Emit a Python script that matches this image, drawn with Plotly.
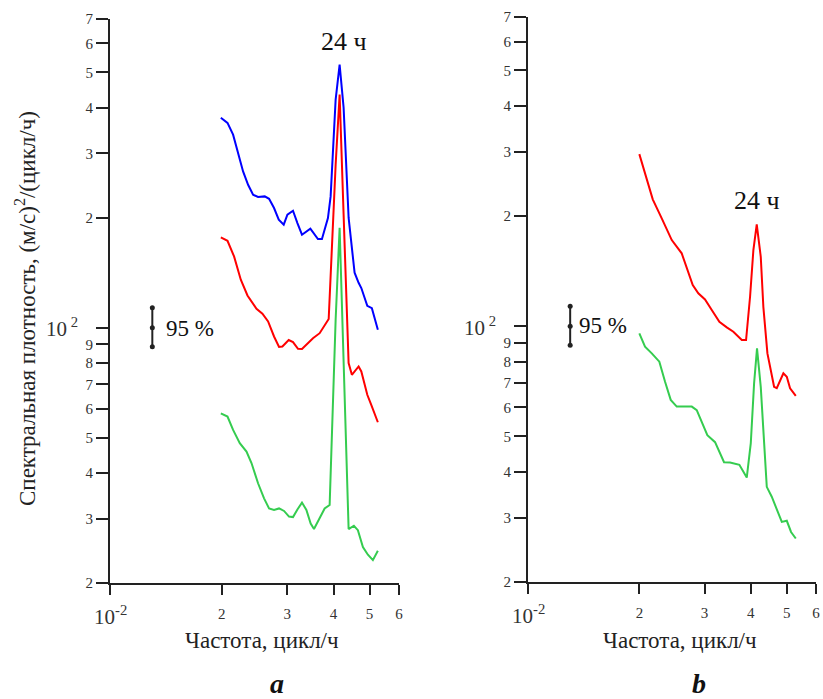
import math
import plotly.graph_objects as go

# ---------------- data (frequency in units of 10^-2 cycles/h, PSD in (m/s)^2/(cycle/h)) -------------
FREQ_A_BLUE = [1.988, 2.072, 2.145, 2.213, 2.282, 2.354, 2.428, 2.504, 2.610, 2.681, 2.765, 2.847,
               2.936, 3.004, 3.110, 3.196, 3.288, 3.463, 3.630, 3.721, 3.862, 3.927, 4.051, 4.152,
               4.256, 4.390, 4.556, 4.671, 4.750, 4.929, 5.071, 5.263]
PSD_A_BLUE = [375.8, 363.6, 337.6, 300.8, 267.8, 246.2, 231.2, 228.0, 228.8, 225.4, 212.6, 197.5,
              191.4, 203.8, 209.0, 193.4, 179.7, 186.6, 174.8, 174.8, 199.6, 228.8, 421.0, 525.2,
              400.2, 200.0, 141.4, 132.7, 128.4, 114.8, 113.1, 98.7]

FREQ_A_RED = [1.988, 2.072, 2.158, 2.250, 2.345, 2.480, 2.573, 2.665, 2.765, 2.852, 2.912, 3.028,
              3.110, 3.208, 3.288, 3.400, 3.520, 3.669, 3.801, 3.880, 4.051, 4.152, 4.256, 4.390,
              4.480, 4.671, 4.750, 4.929, 5.052, 5.263]
PSD_A_RED = [176.6, 173.0, 156.7, 135.3, 122.5, 112.6, 109.2, 104.0, 94.6, 88.6, 88.8, 92.5,
             91.3, 87.5, 87.4, 90.3, 93.6, 96.6, 101.8, 105.6, 279.4, 434.6, 203.8, 80.0,
             74.3, 78.3, 75.9, 65.5, 61.5, 55.1]

FREQ_A_GREEN = [1.988, 2.072, 2.145, 2.236, 2.331, 2.404, 2.504, 2.599, 2.681, 2.765, 2.852, 2.942,
                3.034, 3.110, 3.196, 3.288, 3.379, 3.470, 3.542, 3.669, 3.784, 3.903, 4.051, 4.152,
                4.256, 4.390, 4.536, 4.650, 4.797, 4.948, 5.103, 5.263]
PSD_A_GREEN = [58.3, 57.1, 52.5, 48.3, 45.8, 42.6, 37.5, 34.1, 32.0, 31.7, 32.0, 31.5,
               30.4, 30.3, 31.8, 33.2, 31.7, 29.1, 28.1, 30.1, 32.0, 32.7, 105.1, 187.8,
               80.6, 28.1, 28.7, 27.9, 25.1, 23.9, 23.1, 24.5]

FREQ_B_RED = [1.999, 2.084, 2.173, 2.298, 2.446, 2.602, 2.685, 2.787, 2.885, 3.008, 3.137, 3.289,
              3.444, 3.588, 3.781, 3.883, 3.981, 4.064, 4.150, 4.255, 4.324, 4.435, 4.623, 4.701,
              4.898, 5.003, 5.106, 5.291]
PSD_B_RED = [295.4, 256.2, 222.2, 197.1, 172.0, 158.2, 143.9, 129.6, 123.0, 118.4, 110.7, 102.8,
             99.3, 96.6, 91.7, 91.7, 120.4, 161.5, 189.8, 154.8, 113.0, 84.3, 68.3, 67.7,
             74.4, 72.8, 67.7, 64.5]

FREQ_B_GREEN = [1.999, 2.071, 2.160, 2.264, 2.346, 2.430, 2.523, 2.770, 2.857, 2.948, 3.052, 3.202,
                3.386, 3.515, 3.725, 3.900, 3.999, 4.082, 4.157, 4.255, 4.343, 4.417, 4.556, 4.701,
                4.850, 5.003, 5.137, 5.291]
PSD_B_GREEN = [95.6, 87.9, 84.3, 80.0, 70.5, 62.9, 60.3, 60.3, 59.0, 54.8, 50.4, 48.2,
               42.5, 42.4, 41.8, 38.6, 47.9, 69.8, 87.0, 68.3, 46.8, 36.4, 34.2, 31.5,
               29.2, 29.4, 27.4, 26.3]

# 95 % confidence interval marker
CI_FREQ = 1.3
CI_PSD = [88.7, 100.0, 113.4]

# axis ticks (decade ticks get large labels drawn separately)
X_TICK_VALS = [1, 2, 3, 4, 5, 6]
X_TICK_TEXT = ['', '2', '3', '4', '5', '6']
X_DECADE_LABEL = '10<sup>-2</sup>'
Y_TICK_VALS = [20, 30, 40, 50, 60, 70, 80, 90, 100, 200, 300, 400, 500, 600, 700]
Y_TICK_TEXT = ['2', '3', '4', '5', '6', '7', '8', '9', '', '2', '3', '4', '5', '6', '7']
Y_DECADE_VALUE = 100
Y_DECADE_LABEL = '10<sup> 2</sup>'

BLUE = "#0000ff"
RED = "#ff0000"
GREEN = "#35cc4f"
FONT = "Liberation Serif"

W, H = 823, 699
PANELS = {  # pixel boxes of the plot areas (left, right, top, bottom)
    "a": (110, 399, 19, 583),
    "b": (528, 816, 17, 582),
}


def f(vals):
    return [v * 1e-2 for v in vals]


fig = go.Figure()


def line(x, y, color, xa, ya):
    fig.add_trace(go.Scatter(x=f(x), y=y, mode="lines", line=dict(color=color, width=2),
                             xaxis=xa, yaxis=ya, showlegend=False, hoverinfo="skip"))


line(FREQ_A_BLUE, PSD_A_BLUE, BLUE, "x", "y")
line(FREQ_A_RED, PSD_A_RED, RED, "x", "y")
line(FREQ_A_GREEN, PSD_A_GREEN, GREEN, "x", "y")
line(FREQ_B_RED, PSD_B_RED, RED, "x2", "y2")
line(FREQ_B_GREEN, PSD_B_GREEN, GREEN, "x2", "y2")

for xa, ya in (("x", "y"), ("x2", "y2")):
    fig.add_trace(go.Scatter(x=f([CI_FREQ] * 3), y=CI_PSD, mode="lines+markers",
                             line=dict(color="#222", width=2), marker=dict(color="#222", size=5),
                             xaxis=xa, yaxis=ya, showlegend=False, hoverinfo="skip"))

xcommon = dict(type="log", range=[-2, math.log10(0.06)], tickvals=f(X_TICK_VALS), ticktext=X_TICK_TEXT,
               ticks="outside", ticklen=10, tickwidth=2, tickcolor="#222", showline=True,
               linewidth=2, linecolor="#222", showgrid=False, zeroline=False, automargin=False,
               ticklabelstandoff=6,
               tickfont=dict(family=FONT, size=15, color="#333"))
ycommon = dict(type="log", range=[math.log10(20), math.log10(700)], tickvals=Y_TICK_VALS,
               ticktext=Y_TICK_TEXT, ticks="outside", ticklen=12, tickwidth=2, tickcolor="#222",
               showline=True, linewidth=2, linecolor="#222", showgrid=False, zeroline=False,
               automargin=False, tickfont=dict(family=FONT, size=15, color="#333"))

pa, pb = PANELS["a"], PANELS["b"]
fig.update_layout(
    width=W, height=H, margin=dict(l=0, r=0, t=0, b=0, autoexpand=False),
    paper_bgcolor="white", plot_bgcolor="white", showlegend=False,
    xaxis=dict(domain=[pa[0] / W, pa[1] / W], anchor="y", **xcommon),
    yaxis=dict(domain=[1 - pa[3] / H, 1 - pa[2] / H], anchor="x", **ycommon),
    xaxis2=dict(domain=[pb[0] / W, pb[1] / W], anchor="y2", **xcommon),
    yaxis2=dict(domain=[1 - pb[3] / H, 1 - pb[2] / H], anchor="x2", **ycommon),
)


def text(t, x, y, size, color="#111", **kw):
    d = dict(text=t, xref="paper", yref="paper", x=x / W, y=1 - y / H, showarrow=False,
             xanchor="center", yanchor="middle", font=dict(family=FONT, size=size, color=color))
    d.update(kw)
    return d


ann = []
for key, xr, yr in (("a", "x", "y"), ("b", "x2", "y2")):
    left, right, top, bottom = PANELS[key]
    ann.append(dict(text=Y_DECADE_LABEL, xref="paper", yref=yr, x=(left - 30) / W,
                    y=math.log10(Y_DECADE_VALUE), xanchor="right", yanchor="middle", showarrow=False,
                    font=dict(family=FONT, size=21, color="#333")))
    ann.append(dict(text=X_DECADE_LABEL, xref=xr, yref="paper", x=-2, y=1 - (bottom + 17) / H,
                    xanchor="center", yanchor="top", showarrow=False,
                    font=dict(family=FONT, size=21, color="#333")))

ann.append(text("Спектральная плотность, (м/с)<sup>2</sup>/(цикл/ч)", 25, 309, 23, "#222", textangle=-90))
ann.append(text("Частота, цикл/ч", 262, 640, 23, "#222"))
ann.append(text("Частота, цикл/ч", 680, 640, 23, "#222"))
ann.append(text("<b><i>a</i></b>", 277, 683, 28))
ann.append(text("<b><i>b</i></b>", 699, 683, 28))
ann.append(text("24 ч", 344, 42, 26))
ann.append(text("24 ч", 757, 200, 26))
ann.append(text("95 %", 190, 328, 23))
ann.append(text("95 %", 603, 326, 23))
fig.update_layout(annotations=ann)

fig.write_html("out.html", config={"displayModeBar": False},
               post_script="document.body.style.margin='0';")
